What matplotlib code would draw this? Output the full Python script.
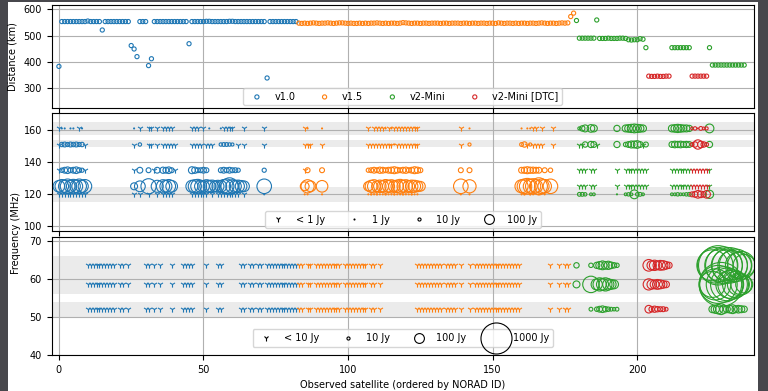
import numpy as np
import matplotlib
matplotlib.use('Agg')
import matplotlib.pyplot as plt
from matplotlib.lines import Line2D
from matplotlib.patches import Rectangle

N = float('nan')

gen_names = ['v1.0', 'v1.5', 'v2-Mini', 'v2-Mini [DTC]']
gen_colors = ['#1f77b4', '#ff7f0e', '#2ca02c', '#d62728']
# runs of (generation, number of satellites), ordered by NORAD ID
gen_runs = [(0, 83), (1, 96), (2, 25), (3, 8), (2, 7), (3, 6), (2, 13)]

# distance (km) per satellite
distance = (
    [383, 553, 553, 553, 553, 553, 553, 553, 553, 553, 555, 553, 553, 553, 553, 521,
     553, 553, 553, 553, 553, 553, 553, 553, 553, 462, 449, 420, 553, 553, 553, 386, 412,
     553, 553, 553, 553, 553, 553, 553, 553, 553, 553, 553, 553, 469,
     553, 553, 553, 553, 553, 554, 554, 553, 553, 553, 553, 553, 553, 554, 554, 553,
     553, 553, 553, 553, 553, 553, 553, 553, 553, 553, 339,
     553, 553, 553, 553, 553, 553, 553, 553, 553, 553]
    + [547, 546, 547, 546, 547, 548, 547, 546, 547, 547, 548, 547, 546, 547, 548, 548,
       547, 546, 547, 546, 546, 547, 546, 547, 546, 547, 547, 548, 547, 546, 547, 546,
       547, 547, 546, 547, 549, 548, 547, 546, 547, 547, 546, 547, 547, 546, 547, 547,
       547, 546, 547, 547, 546, 547, 547, 547, 546, 547, 547, 546, 547, 547, 546, 547,
       547, 546, 547, 547, 546, 548, 547, 546, 547, 547, 546, 547, 546, 547, 547, 546,
       547, 547, 546, 547, 548, 547, 546, 547, 547, 546, 547, 548, 547, 548, 572, 585]
    + [557, 490, 490, 490, 490, 490, 490, 559, 489, 489, 489, 490, 489, 489, 489, 490,
       490, 489, 484, 483, 484, 484, 488, 486, 454]
    + [346, 345, 345, 346, 345, 345, 346, 346]
    + [454, 454, 454, 454, 454, 454, 454]
    + [346, 346, 346, 346, 346, 346]
    + [454, 388, 388, 388, 388, 388, 388, 388, 388, 388, 388, 388, 388]
)

# ---- HBA detections (panel 2): satellites and flux (Jy) per frequency row ----
hba_freqs = [161, 151, 135, 125, 120]
hba_sat = ([0, 1, 2, 3, 4, 5, 6, 7, 8, 9]
           + [26, 27, 28, 29, 30, 31, 32, 33, 34, 35, 36, 37, 38, 39, 40]
           + [46, 47, 48, 49, 50, 51, 52, 53, 54, 55, 56, 57, 58, 59, 60, 61, 62, 63, 64, 65]
           + [71]
           + [85, 86, 87, 91]
           + [107, 108, 109, 110, 111, 112, 113, 114, 115, 116, 117, 118, 119, 120, 121, 122, 123, 124, 125]
           + [139, 142]
           + [160, 161, 162, 163, 164, 165, 166, 167, 168, 169, 170, 171]
           + [180, 181, 182, 184, 185, 186]
           + [193, 196, 197, 198, 199, 200, 201, 202, 203]
           + [212, 213, 214, 215, 216, 217, 218, 219, 220, 221, 222, 223, 224, 225])
hba_161 = ([0.5, 1, 1, N, 1, 1, N, 0.5, 1, N]
           + [1, N, 0.5, N, N, 0.5, 0.5, N, 0.5, N, 0.5, 0.5, 0.5, 0.5, N]
           + [0.5, 0.5, 0.5, N, 0.5, N, 1, N, N, N, 1, 0.5, 0.5, 0.5, 0.5, N, N, N, 0.5, N]
           + [0.5]
           + [0.5, 1, N, 1]
           + [0.5, N, 0.5, 0.5, 0.5, 0.5, 1, 0.5, 1, 0.5, 0.5, 0.5, 0.5, 0.5, 0.5, 0.5, 0.5, 0.5, N]
           + [0.5, 1]
           + [1, N, 1, 1, 0.5, 0.5, N, 0.5, N, N, N, 0.5]
           + [10, 30, 50, 60, 50, N]
           + [40, 50, 60, 70, 80, 70, 60, 50, N]
           + [50, 60, 70, 60, 50, 50, 40, 8, 12, 1, 15, 8, 10, 80])
hba_151 = ([0.5, 20, 25, 18, 25, 20, 25, 18, 20, 0.5]
           + [0.5, N, 12, N, N, 0.5, 0.5, N, 0.5, N, 0.5, 0.5, 0.5, 0.5, 0.5]
           + [0.5, 0.5, 0.5, 0.5, N, 0.5, 0.5, 0.5, N, N, 12, 15, 15, 12, 10, N, 0.5, N, 0.5, N]
           + [0.5]
           + [0.5, 0.5, 0.5, 0.5]
           + [0.5, 0.5, 0.5, 0.5, 0.5, 0.5, 0.5, 0.5, 0.5, 1, 0.5, 0.5, 0.5, 0.5, 0.5, 0.5, 0.5, 0.5, N]
           + [0.5, 10]
           + [15, 30, 0.5, 10, 0.5, 0.5, 0.5, 0.5, N, N, N, 0.5]
           + [0.5, 0.5, 30, 40, 35, 0.5]
           + [40, 20, 35, 50, 50, 60, 35, 0.5, 25]
           + [35, 45, 40, 45, 35, 40, 35, 15, 30, 90, 45, 30, 15, 40])
hba_135 = ([0.5, 20, 35, 45, 25, 35, 45, 25, 18, 0.5]
           + [0.5, N, 35, N, N, 25, N, 0.5, 35, N, 40, 35, 45, 25, 0.5]
           + [50, 40, 25, 25, 35, 25, N, N, N, N, 25, 35, 25, 35, 25, 25, 18, N, N, N]
           + [18]
           + [0.5, 25, N, 25]
           + [18, 25, 35, 25, 40, 35, 25, 35, 40, 50, 35, 25, 35, 40, 25, 35, 50, 40, 25]
           + [25, 25]
           + [35, 40, 50, 40, 40, 35, 35, N, 25, N, 20, N]
           + [0.5, 0.5, 0.5, 0.5, 0.5, N]
           + [0.5, 0.5, 0.5, 0.5, 0.5, 0.5, 0.5, 0.5, 0.5]
           + [0.5, 0.5, 0.5, 0.5, 0.5, 0.5, 0.5, 0.5, 0.5, 0.5, 0.5, 0.5, 0.5, 0.5])
hba_125 = ([140, 190, 160, 220, 150, 200, 170, 220, 160, 190]
           + [50, N, 120, N, N, 240, N, N, 150, N, 180, 150, 190, 140, N]
           + [150, 180, 200, 150, 140, 180, 150, 160, 120, 150, 140, 190, 220, 300, 180, 150, 160, 140, 120, N]
           + [220]
           + [80, 180, 120, 140]
           + [90, 150, 180, 120, 160, 140, 190, 150, 180, 140, 160, 200, 150, 180, 140, 160, 150, 120, 100]
           + [220, 180]
           + [180, 220, 260, 200, 240, 180, 300, 220, 190, N, 220, N]
           + [0.5, 0.5, 0.5, 0.5, 0.5, N]
           + [0.5, 0.5, 0.5, 0.5, 0.5, 0.5, 0.5, 0.5, 0.5]
           + [0.5, 0.5, 0.5, 0.5, 0.5, 0.5, 0.5, 0.5, 0.5, 0.5, 0.5, 0.5, 0.5, 0.5])
hba_120 = ([0.5, 0.5, 0.5, 0.5, 0.5, 0.5, 0.5, 0.5, 0.5, 0.5]
           + [0.5, N, 0.5, N, N, 0.5, N, N, 0.5, N, 0.5, 0.5, 0.5, 0.5, N]
           + [0.5, 0.5, 0.5, 0.5, 0.5, 0.5, N, 0.5, N, 0.5, 0.5, 0.5, 0.5, 0.5, 0.5, 0.5, 0.5, N, 0.5, N]
           + [1]
           + [1, 1, N, 1]
           + [1, 2, 1, 2, 1, 1, 2, 1, 1, 2, 1, 1, 2, 1, 1, 2, 1, 1, N]
           + [1, 1]
           + [1, 2, N, 2, 1, N, 1, N, 1, N, N, N]
           + [15, 15, 12, 8, 8, N]
           + [1, 8, 12, 8, 80, 12, 15, 8, N]
           + [8, 8, 12, 8, 8, 12, 15, 25, 35, 60, 45, 30, 60, 70])
hba_bands = [(157, 165), (149.5, 153.5), (115.5, 124.5)]

# ---- LBA detections (panel 3) ----
lba_freqs = [63.5, 58.5, 52]
# satellites only detected below 10 Jy in all three rows
lba_weak_sat = [10, 11, 12, 13, 14, 15, 16, 17, 18, 19, 21, 22, 24, 30, 31, 33, 35, 39,
                43, 44, 45, 46, 51, 55, 56, 63, 64, 66, 67, 69, 70,
                72, 73, 74, 75, 76, 77, 78, 79, 80, 81, 82,
                83, 84, 86, 87, 89, 90, 91, 92, 93, 94, 95, 96, 97, 99, 100, 101, 102,
                103, 104, 105, 106, 108, 109, 111,
                124, 125, 126, 127, 128, 129, 130, 131, 132, 134, 135, 136, 137, 139, 142,
                144, 145, 146, 147, 148, 149, 150, 151, 152, 153, 154, 155, 156, 157, 158, 159,
                170, 173, 175, 176]
lba_weak_flux = 5
lba_sat = ([179, 184, 186, 187, 188, 189, 190, 191, 192, 193]
           + [204, 205, 206, 207, 208, 209, 210, 211]
           + [226, 227, 228, 229, 230, 231, 232, 233, 234, 235, 236, 237])
lba_63 = ([30, 20, 40, 60, 80, 60, 70, 45, 30, 20]
          + [140, 90, 110, 80, 100, 90, 60, 40]
          + [1000, 1300, 1600, 1100, 1400, 1000, 1300, 900, 1100, 700, 800, 500])
lba_58 = ([50, 280, 130, 180, 150, 180, 130, 100, 80, N]
          + [130, 90, 80, 100, 80, 60, 45, N]
          + [700, 1000, 1500, 2000, 1300, 1100, 800, 900, 700, 500, 450, 300])
lba_52 = ([N, 15, 20, 35, 45, 30, 20, 15, 12, 15]
          + [60, 30, 40, 30, 25, 25, 15, N]
          + [50, 70, 90, 120, 70, 50, 60, 80, 50, 60, 50, 40])
lba_bands = [(50, 54), (56, 61), (61, 66)]

hba_legend = [('< 1 Jy', None), ('1 Jy', 1), ('10 Jy', 10), ('100 Jy', 100)]
lba_legend = [('< 10 Jy', None), ('10 Jy', 10), ('100 Jy', 100), ('1000 Jy', 1000)]

# ------------------------------------------------------------------
SCALE = 0.5   # marker area (pt^2) per Jy
TRI_S = 20
LW = 0.8
FS = 7

gen_of = np.concatenate([np.full(n, g) for g, n in gen_runs])
sat_x = np.arange(len(distance))

plt.rcParams['font.family'] = ['DejaVu Sans']
fig = plt.figure(figsize=(7.68, 3.91), dpi=100, facecolor='#47474c')
fig.patches.append(Rectangle((8 / 768, 0), 750 / 768, 389 / 391, transform=fig.transFigure,
                             facecolor='white', edgecolor='none', zorder=-10))

L, W = 0.0673, 0.9145
ax1 = fig.add_axes([L, 0.723, W, 0.265])
ax2 = fig.add_axes([L, 0.4084, W, 0.3018], sharex=ax1)
ax3 = fig.add_axes([L, 0.0921, W, 0.3025], sharex=ax1)

for ax in (ax1, ax2, ax3):
    ax.set_axisbelow(True)
    ax.grid(True, color='#b0b0b0', linewidth=0.8)
    ax.tick_params(labelsize=FS, width=0.8, length=3.5)
    for s in ax.spines.values():
        s.set_linewidth(0.8)

# panel 1
dist = np.asarray(distance, float)
for gi, (name, col) in enumerate(zip(gen_names, gen_colors)):
    m = gen_of == gi
    ax1.scatter(sat_x[m], dist[m], s=9, facecolors='none', edgecolors=col, linewidths=LW, label=name)
ax1.set_ylim(224, 617)
ax1.set_yticks([300, 400, 500, 600])
ax1.set_ylabel('Distance (km)', fontsize=FS)
ax1.legend(loc='lower center', ncol=4, fontsize=FS, borderaxespad=0.3)


def draw_rows(ax, sats, rows, freqs, thresh):
    sats = np.asarray(sats)
    g = gen_of[sats]
    for fl, fr in zip(rows, freqs):
        fl = np.asarray(fl, float)
        for gi, col in enumerate(gen_colors):
            m = (g == gi) & ~np.isnan(fl)
            weak = m & (fl < thresh)
            strong = m & (fl >= thresh)
            if weak.any():
                ax.scatter(sats[weak], np.full(weak.sum(), fr), marker='1', s=TRI_S,
                           c=col, linewidths=LW)
            if strong.any():
                ax.scatter(sats[strong], np.full(strong.sum(), fr), s=SCALE * fl[strong],
                           facecolors='none', edgecolors=col, linewidths=LW)


def legend_handles(entries):
    hs = []
    for lab, f in entries:
        if f is None:
            hs.append(Line2D([], [], marker='1', color='k', linestyle='none',
                             markersize=np.sqrt(TRI_S), markeredgewidth=LW, label=lab))
        else:
            hs.append(Line2D([], [], marker='o', color='k', linestyle='none', markerfacecolor='none',
                             markersize=np.sqrt(SCALE * f), markeredgewidth=LW, label=lab))
    return hs


# panel 2
for lo, hi in hba_bands:
    ax2.axhspan(lo, hi, color='#ebebeb', zorder=0, linewidth=0)
draw_rows(ax2, hba_sat, [hba_161, hba_151, hba_135, hba_125, hba_120], hba_freqs, 1)
ax2.set_ylim(97, 170.4)
ax2.set_yticks([100, 120, 140, 160])
ax2.legend(handles=legend_handles(hba_legend), loc='lower center', ncol=4, fontsize=FS,
           borderaxespad=0.3)

# panel 3
for lo, hi in lba_bands:
    ax3.axhspan(lo, hi, color='#ebebeb', zorder=0, linewidth=0)
weak_rows = [[lba_weak_flux for _ in lba_weak_sat] for _ in lba_freqs]
draw_rows(ax3, lba_weak_sat, weak_rows, lba_freqs, 10)
draw_rows(ax3, lba_sat, [lba_63, lba_58, lba_52], lba_freqs, 10)
ax3.set_ylim(40, 71)
ax3.set_yticks([40, 50, 60, 70])
ax3.legend(handles=legend_handles(lba_legend), loc='lower center', ncol=4, fontsize=FS,
           borderaxespad=0.8)
ax3.set_xlabel('Observed satellite (ordered by NORAD ID)', fontsize=FS)

ax1.set_xlim(-2.5, 240.4)
ax1.set_xticks([0, 50, 100, 150, 200])
ax1.tick_params(labelbottom=False)
ax2.tick_params(labelbottom=False)

fig.text(16 / 768, 1 - 233 / 391, 'Frequency (MHz)', rotation=90, va='center', ha='center',
         fontsize=FS)

fig.savefig('out.png', dpi=100, facecolor=fig.get_facecolor())
